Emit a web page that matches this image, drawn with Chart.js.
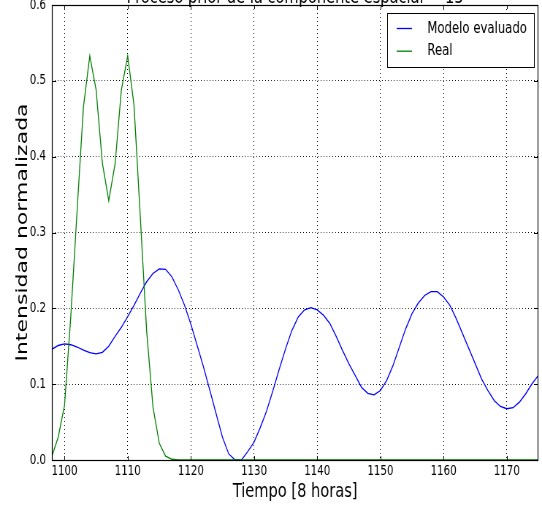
<!DOCTYPE html>
<html>
<head>
<meta charset="utf-8">
<script src="https://cdn.jsdelivr.net/npm/chart.js@4.4.1/dist/chart.umd.min.js"></script>
<style>
  body { margin: 0; background: #fff; }
</style>
</head>
<body>
<!-- el lienzo se dibuja más ancho y se comprime en horizontal -->
<canvas id="grafico" width="742" height="506" style="width:542px;height:506px"></canvas>
<script>
// Tiempo en pasos de 8 horas
const tiempo = [
  1098, 1099, 1100, 1101, 1102, 1103, 1104, 1105, 1106, 1107,
  1108, 1109, 1110, 1111, 1112, 1113, 1114, 1115, 1116, 1117,
  1118, 1119, 1120, 1121, 1122, 1123, 1124, 1125, 1126, 1127,
  1128, 1129, 1130, 1131, 1132, 1133, 1134, 1135, 1136, 1137,
  1138, 1139, 1140, 1141, 1142, 1143, 1144, 1145, 1146, 1147,
  1148, 1149, 1150, 1151, 1152, 1153, 1154, 1155, 1156, 1157,
  1158, 1159, 1160, 1161, 1162, 1163, 1164, 1165, 1166, 1167,
  1168, 1169, 1170, 1171, 1172, 1173, 1174, 1175
];

const modelo = [
  0.146, 0.151, 0.153, 0.152, 0.149, 0.145, 0.1415, 0.140, 0.142, 0.150,
  0.163, 0.175, 0.189, 0.204, 0.220, 0.235, 0.246, 0.252, 0.2515, 0.2415,
  0.2245, 0.204, 0.179, 0.151, 0.1225, 0.092, 0.061, 0.030, 0.008, 0.0,
  0.0, 0.011, 0.0235, 0.043, 0.065, 0.092, 0.120, 0.147, 0.171, 0.1886,
  0.198, 0.201, 0.198, 0.191, 0.180, 0.163, 0.1446, 0.127, 0.1115, 0.096,
  0.088, 0.086, 0.0917, 0.105, 0.1247, 0.149, 0.173, 0.193, 0.207, 0.217,
  0.222, 0.222, 0.215, 0.204, 0.1864, 0.1666, 0.1468, 0.127, 0.107, 0.0917,
  0.0785, 0.0706, 0.0676, 0.069, 0.0763, 0.0874, 0.1006, 0.1115
];

const real = [
  0.005, 0.03, 0.072, 0.19, 0.33, 0.466, 0.533, 0.488, 0.391, 0.342,
  0.39, 0.488, 0.533, 0.468, 0.32, 0.17, 0.07, 0.022, 0.005, 0.001,
  0, 0, 0, 0, 0, 0, 0, 0, 0, 0,
  0, 0, 0, 0, 0, 0, 0, 0, 0, 0,
  0, 0, 0, 0, 0, 0, 0, 0, 0, 0,
  0, 0, 0, 0, 0, 0, 0, 0, 0, 0,
  0, 0, 0, 0, 0, 0, 0, 0, 0, 0,
  0, 0, 0, 0, 0, 0, 0, 0
];

const ticksX = [1100, 1110, 1120, 1130, 1140, 1150, 1160, 1170];
const ticksY = [0.0, 0.1, 0.2, 0.3, 0.4, 0.5, 0.6];

const titulo = 'Proceso prior de la componente espacial = 15';

function puntos(valores) {
  return tiempo.map((t, i) => ({ x: t, y: valores[i] }));
}

// Marco con marcas hacia dentro, título y leyenda dentro del área
const decoraciones = {
  id: 'decoraciones',
  afterDraw(chart) {
    const { ctx, chartArea: a, scales: { x, y } } = chart;
    ctx.save();
    ctx.strokeStyle = '#000';
    ctx.lineWidth = 1;

    ctx.beginPath();
    ticksX.forEach(v => {
      const px = Math.round(x.getPixelForValue(v)) + 0.5;
      ctx.moveTo(px, a.bottom); ctx.lineTo(px, a.bottom - 4);
      ctx.moveTo(px, a.top); ctx.lineTo(px, a.top + 4);
    });
    ticksY.forEach(v => {
      const py = Math.round(y.getPixelForValue(v)) + 0.5;
      ctx.moveTo(a.left, py); ctx.lineTo(a.left + 6, py);
      ctx.moveTo(a.right, py); ctx.lineTo(a.right - 6, py);
    });
    ctx.stroke();

    ctx.lineWidth = 1.2;
    ctx.strokeRect(a.left + 0.5, a.top + 0.5, a.right - a.left - 1, a.bottom - a.top);

    // título (queda recortado por el borde superior)
    ctx.fillStyle = '#000';
    ctx.font = '20px "DejaVu Sans", sans-serif';
    ctx.textAlign = 'center';
    ctx.textBaseline = 'alphabetic';
    ctx.fillText(titulo, (a.left + a.right) / 2, 3);

    // leyenda
    const caja = { x: a.right - 207, y: a.top + 8, w: 201, h: 54 };
    ctx.fillStyle = '#fff';
    ctx.fillRect(caja.x, caja.y, caja.w, caja.h);
    ctx.lineWidth = 1;
    ctx.strokeRect(caja.x + 0.5, caja.y + 0.5, caja.w, caja.h);
    ctx.font = '16px "DejaVu Sans", sans-serif';
    ctx.textAlign = 'left';
    ctx.textBaseline = 'middle';
    chart.data.datasets.forEach((ds, i) => {
      const fy = caja.y + 15.5 + i * 22.7;
      ctx.strokeStyle = ds.borderColor;
      ctx.lineWidth = 1.3;
      ctx.beginPath();
      ctx.moveTo(caja.x + 13, fy);
      ctx.lineTo(caja.x + 34, fy);
      ctx.stroke();
      ctx.fillStyle = '#000';
      ctx.fillText(ds.label, caja.x + 55, fy);
    });
    ctx.restore();
  }
};

Chart.defaults.font.family = '"DejaVu Sans", sans-serif';
Chart.defaults.color = '#000';

new Chart(document.getElementById('grafico'), {
  type: 'line',
  data: {
    datasets: [
      {
        label: 'Modelo evaluado',
        data: puntos(modelo),
        borderColor: '#0000ff',
        borderWidth: 1.3,
        pointRadius: 0,
        fill: false,
        order: 1
      },
      {
        label: 'Real',
        data: puntos(real),
        borderColor: '#008000',
        borderWidth: 1.3,
        pointRadius: 0,
        fill: false,
        order: 0
      }
    ]
  },
  options: {
    responsive: false,
    devicePixelRatio: 1,
    animation: false,
    layout: { padding: { left: 0, right: 5, top: 5, bottom: 0 } },
    plugins: {
      legend: { display: false },
      tooltip: { enabled: false }
    },
    scales: {
      x: {
        type: 'linear',
        min: 1098,
        max: 1175,
        afterBuildTicks: s => { s.ticks = ticksX.map(v => ({ value: v })); },
        afterFit: s => { s.height = 46; s.paddingLeft = 0; s.paddingRight = 0; },
        ticks: { font: { size: 14 }, padding: 3, maxRotation: 0, callback: v => String(v) },
        grid: { color: '#000', lineWidth: 1, drawTicks: false },
        border: { display: false, dash: [1, 3] },
        title: {
          display: true,
          text: 'Tiempo [8 horas]',
          font: { size: 20 },
          padding: { top: 0, bottom: 2 }
        }
      },
      y: {
        min: 0,
        max: 0.6,
        afterBuildTicks: s => { s.ticks = ticksY.map(v => ({ value: v })); },
        afterFit: s => { s.width = 71; s.paddingTop = 0; s.paddingBottom = 0; },
        ticks: {
          font: { size: 14 },
          padding: 8,
          callback: v => v.toFixed(1)
        },
        grid: { color: '#000', lineWidth: 1, drawTicks: false },
        border: { display: false, dash: [1, 3] },
        title: {
          display: true,
          text: 'Intensidad normalizada',
          font: { size: 22 },
          padding: { top: 18, bottom: 0 }
        }
      }
    }
  },
  plugins: [decoraciones]
});
</script>
</body>
</html>
